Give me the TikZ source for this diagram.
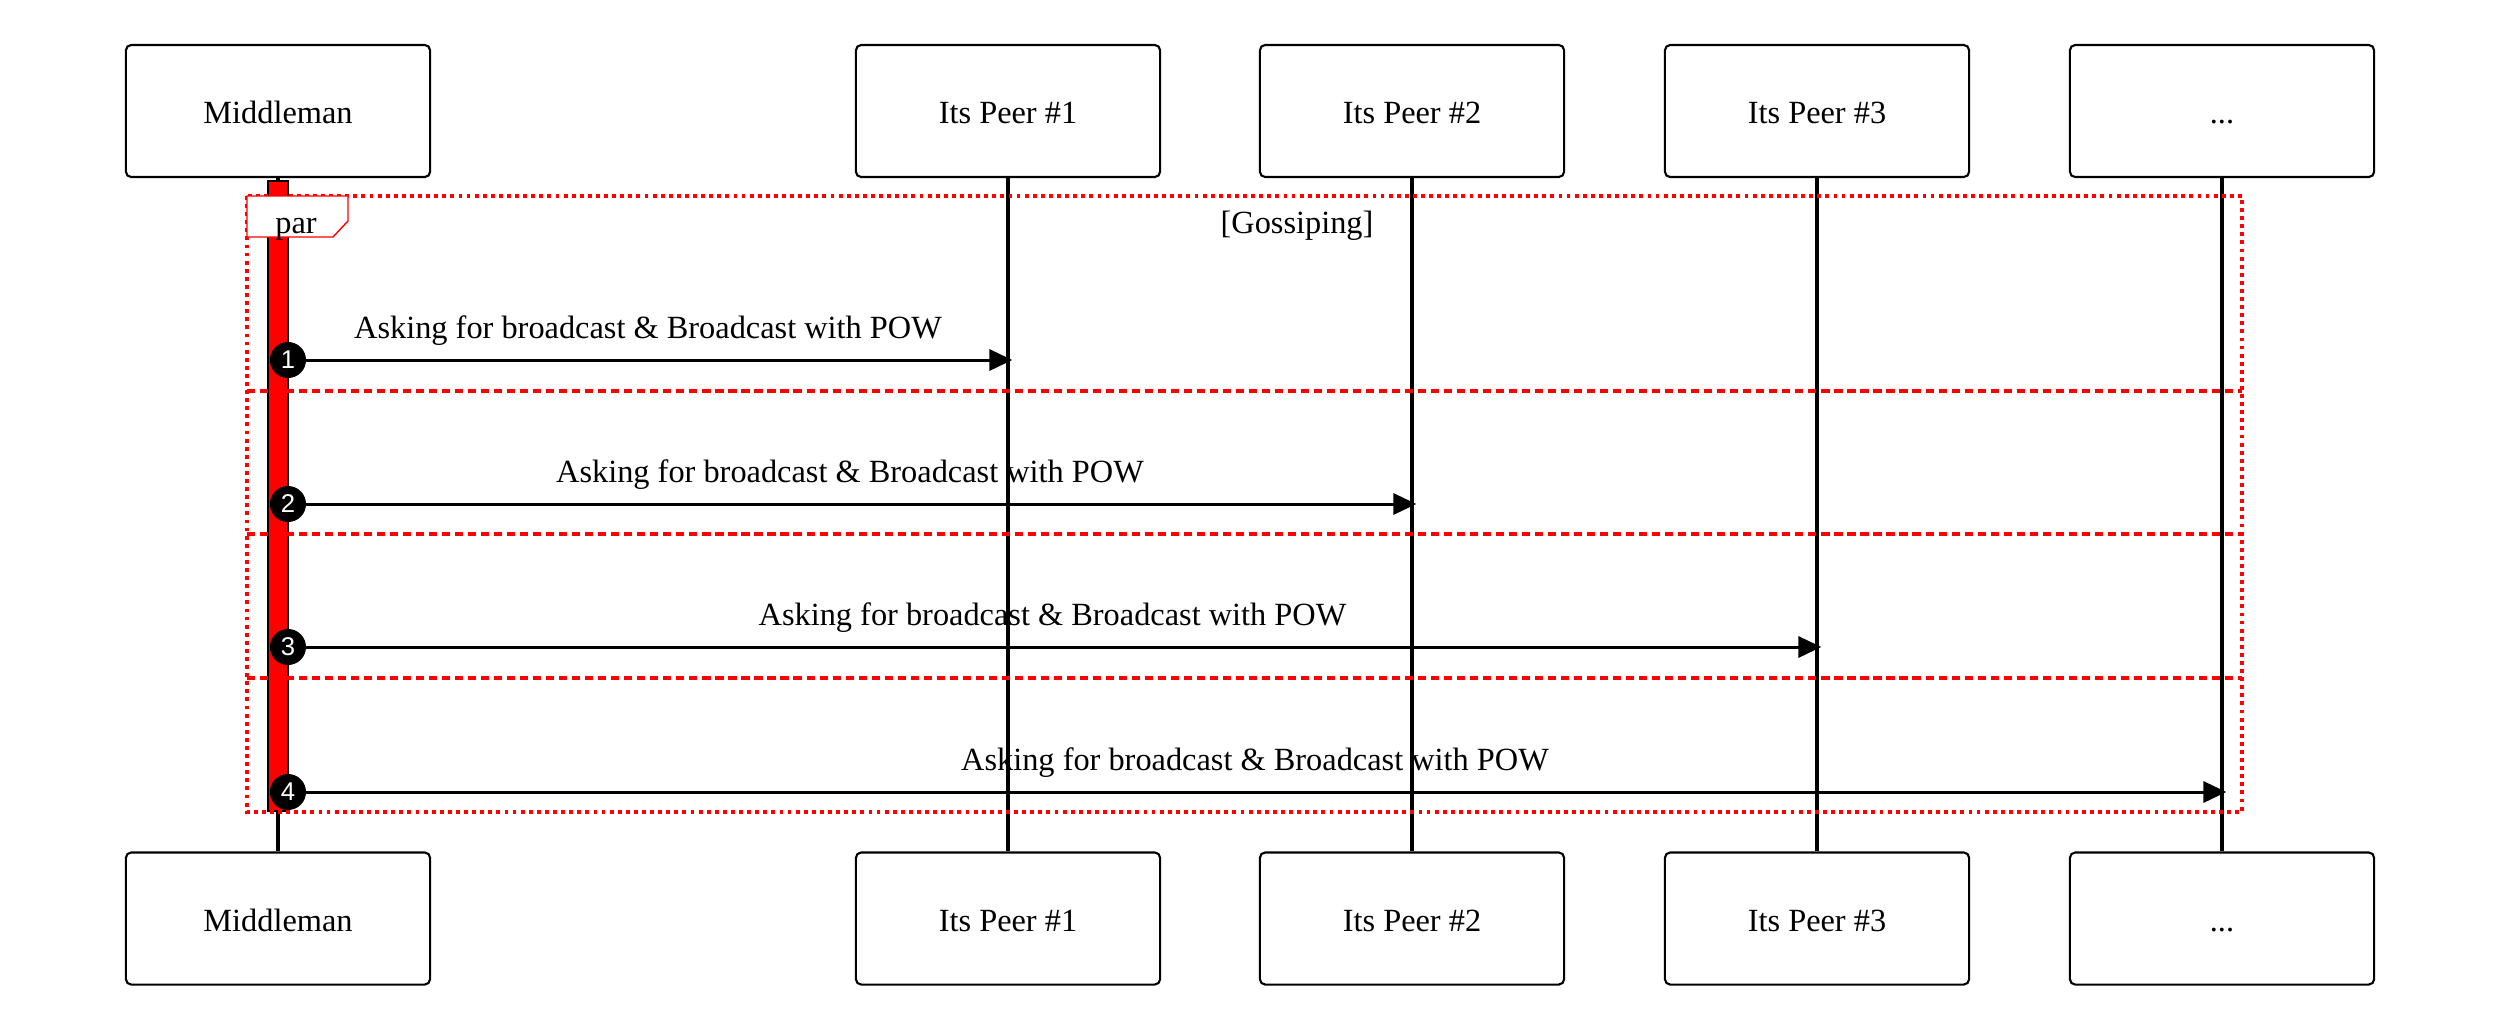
\documentclass[tikz,border=0pt]{standalone}
\usepackage{fontspec}
\setmainfont{Liberation Serif}
\newfontfamily\numfont{Liberation Sans}
\usetikzlibrary{arrows.meta,positioning}
\tikzset{
  >={Triangle[length=6.5pt,width=6pt]},
}
\tikzstyle{every node}=[font=\fontsize{9.2}{11}\selectfont]
\tikzstyle{actor}=[draw,rounded corners=1.5pt,line width=0.6pt,minimum width=3.04cm,minimum height=1.32cm,inner sep=0pt,text height=8pt,text depth=0.9pt]
\tikzstyle{lifeline}=[line width=1.1pt]
\tikzstyle{msg}=[line width=0.85pt,->,shorten >=-1.2pt]
\tikzstyle{seqnum}=[circle,fill=black,text=white,inner sep=0pt,minimum size=0.36cm,font=\numfont\fontsize{7.3}{8}\selectfont]
\tikzstyle{frameline}=[red,line width=1.1pt,dash pattern=on 1.1pt off 1.2pt]
\tikzstyle{splitline}=[red,line width=0.9pt,dash pattern=on 2.3pt off 1.4pt]

\begin{document}
\begin{tikzpicture}[x=0.01cm,y=-0.01cm]
  \useasboundingbox (0,0) rectangle (2500,1033);
  % participants
  \node[actor] (mid) at (278,111) {Middleman};
  \node[actor] (peerA) at (1008,111) {Its Peer \#1};
  \node[actor] (peerB) at (1412,111) {Its Peer \#2};
  \node[actor] (peerC) at (1817,111) {Its Peer \#3};
  \node[actor] (more) at (2222,111) {...};
  \node[actor] (mid-foot) at (278,918.5) {Middleman};
  \node[actor] (peerA-foot) at (1008,918.5) {Its Peer \#1};
  \node[actor] (peerB-foot) at (1412,918.5) {Its Peer \#2};
  \node[actor] (peerC-foot) at (1817,918.5) {Its Peer \#3};
  \node[actor] (more-foot) at (2222,918.5) {...};
  \foreach \a in {mid,peerA,peerB,peerC,more}
    \draw[lifeline] (\a.south) -- (\a-foot.north);
  % activation
  \draw[fill=red,line width=0.3pt] (268,181) rectangle (288,811);
  % par block
  \draw[frameline] (247,196) rectangle (2242,812);
  \foreach \y in {391,534,678}
    \draw[splitline] (247,\y) -- (2242,\y);
  \draw[red,fill=white,line width=0.4pt] (247,196) -- (348,196) -- (348,221) -- (333,237) -- (247,237) -- cycle;
  \node (partag) at (296,229) {par};
  \node (guard) at (1297,226) {[Gossiping]};
  % messages
  \foreach \i/\y/\dst in {1/360/peerA,2/504/peerB,3/647/peerC,4/792/more}{
    \coordinate (s\i) at (288,\y);
    \draw[msg] (s\i) -- (s\i -| \dst.south)
      node[midway,yshift=8.5pt] {Asking for broadcast \& Broadcast with POW};
    \node[seqnum] (n\i) at (s\i) {\i};
  }
\end{tikzpicture}
\end{document}
